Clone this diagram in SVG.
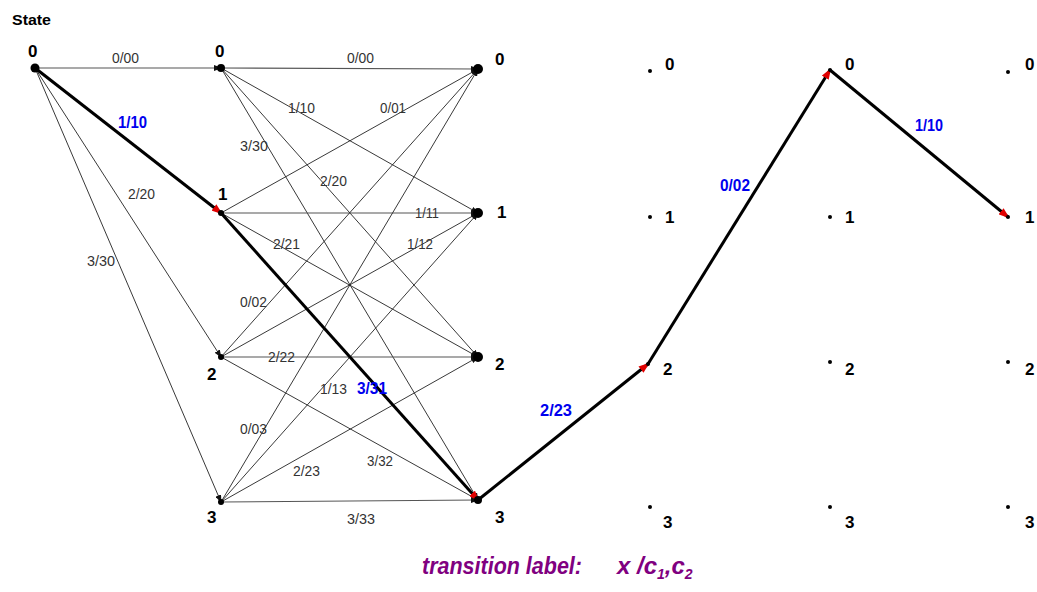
<svg xmlns="http://www.w3.org/2000/svg" width="1037" height="592" viewBox="0 0 1037 592">
<defs>
<marker id="ah" markerUnits="userSpaceOnUse" markerWidth="8" markerHeight="6" refX="7" refY="3" orient="auto"><path d="M0,0 L8,3 L0,6 z" fill="#111"/></marker>
<marker id="rah" markerUnits="userSpaceOnUse" markerWidth="11" markerHeight="8" refX="9" refY="4" orient="auto"><path d="M0,0 L11,4 L0,8 z" fill="#e00000"/></marker>
</defs>
<style>
.t{stroke:#222;stroke-width:0.9;fill:none;marker-end:url(#ah)}
.h{stroke:#555;stroke-width:1.2;fill:none;marker-end:url(#ah)}
.k{stroke:#000;stroke-width:3;fill:none;marker-end:url(#rah)}
.lb{font-family:"Liberation Sans",Arial,sans-serif;font-size:15px;fill:#333}
.bl{font-family:"Liberation Sans",Arial,sans-serif;font-size:17px;font-weight:bold;fill:#0000ee}
.st{font-family:"Liberation Sans",Arial,sans-serif;font-size:17px;font-weight:bold;fill:#000}
.dot{fill:#000}
</style>
<rect width="1037" height="592" fill="#fff"/>
<text x="12" y="25" font-family="Liberation Sans, Arial, sans-serif" font-size="15" font-weight="bold" textLength="39" lengthAdjust="spacingAndGlyphs">State</text>
<g id="connectors">
<line class="h" x1="35" y1="68" x2="221" y2="68"/>
<line class="t" x1="35" y1="68" x2="221" y2="357"/>
<line class="t" x1="35" y1="68" x2="221" y2="502"/>
<line class="h" x1="221" y1="68" x2="478" y2="69"/>
<line class="t" x1="221" y1="68" x2="478" y2="213"/>
<line class="t" x1="221" y1="68" x2="478" y2="357"/>
<line class="t" x1="221" y1="68" x2="478" y2="500"/>
<line class="t" x1="221" y1="213" x2="478" y2="69"/>
<line class="h" x1="221" y1="213" x2="478" y2="213"/>
<line class="t" x1="221" y1="213" x2="478" y2="357"/>
<line class="t" x1="221" y1="357" x2="478" y2="69"/>
<line class="t" x1="221" y1="357" x2="478" y2="213"/>
<line class="h" x1="221" y1="357" x2="478" y2="357"/>
<line class="t" x1="221" y1="357" x2="478" y2="500"/>
<line class="t" x1="221" y1="502" x2="478" y2="69"/>
<line class="t" x1="221" y1="502" x2="478" y2="213"/>
<line class="t" x1="221" y1="502" x2="478" y2="357"/>
<line class="h" x1="221" y1="502" x2="478" y2="500"/>
<line class="k" x1="35" y1="68" x2="221" y2="213"/>
<line class="k" x1="221" y1="213" x2="478" y2="500"/>
<line class="k" x1="478" y1="500" x2="648" y2="364"/>
<line class="k" x1="648" y1="364" x2="830" y2="70"/>
<line class="k" x1="830" y1="70" x2="1008" y2="217"/>
</g>
<g id="edge-labels">
<text class="lb" x="112" y="63" textLength="27" lengthAdjust="spacingAndGlyphs">0/00</text>
<text class="lb" x="128" y="199" textLength="27" lengthAdjust="spacingAndGlyphs">2/20</text>
<text class="lb" x="87" y="266" textLength="28" lengthAdjust="spacingAndGlyphs">3/30</text>
<text class="lb" x="347" y="63" textLength="27" lengthAdjust="spacingAndGlyphs">0/00</text>
<text class="lb" x="288" y="113" textLength="27" lengthAdjust="spacingAndGlyphs">1/10</text>
<text class="lb" x="380" y="113" textLength="26" lengthAdjust="spacingAndGlyphs">0/01</text>
<text class="lb" x="240" y="151" textLength="28" lengthAdjust="spacingAndGlyphs">3/30</text>
<text class="lb" x="320" y="186" textLength="27" lengthAdjust="spacingAndGlyphs">2/20</text>
<text class="lb" x="415" y="218" textLength="24" lengthAdjust="spacingAndGlyphs">1/11</text>
<text class="lb" x="273" y="249" textLength="27" lengthAdjust="spacingAndGlyphs">2/21</text>
<text class="lb" x="407" y="249" textLength="26" lengthAdjust="spacingAndGlyphs">1/12</text>
<text class="lb" x="240" y="307" textLength="27" lengthAdjust="spacingAndGlyphs">0/02</text>
<text class="lb" x="268" y="362" textLength="27" lengthAdjust="spacingAndGlyphs">2/22</text>
<text class="lb" x="320" y="394" textLength="27" lengthAdjust="spacingAndGlyphs">1/13</text>
<text class="lb" x="240" y="434" textLength="27" lengthAdjust="spacingAndGlyphs">0/03</text>
<text class="lb" x="293" y="476" textLength="27" lengthAdjust="spacingAndGlyphs">2/23</text>
<text class="lb" x="367" y="466" textLength="26" lengthAdjust="spacingAndGlyphs">3/32</text>
<text class="lb" x="347" y="524" textLength="28" lengthAdjust="spacingAndGlyphs">3/33</text>
<text class="bl" x="118" y="128" textLength="29" lengthAdjust="spacingAndGlyphs">1/10</text>
<text class="bl" x="357" y="394" textLength="30" lengthAdjust="spacingAndGlyphs">3/31</text>
<text class="bl" x="540" y="416" textLength="32" lengthAdjust="spacingAndGlyphs">2/23</text>
<text class="bl" x="720" y="191" textLength="30" lengthAdjust="spacingAndGlyphs">0/02</text>
<text class="bl" x="915" y="131" textLength="28" lengthAdjust="spacingAndGlyphs">1/10</text>
</g>
<g id="n-t0-s0"><circle class="dot" cx="35" cy="68" r="4.5"/><text class="st" x="28" y="57">0</text></g>
<g id="n-t1-s0"><circle class="dot" cx="221" cy="68" r="4"/><text class="st" x="215" y="57">0</text></g>
<g id="n-t1-s1"><circle class="dot" cx="221" cy="213" r="3"/><text class="st" x="218" y="200">1</text></g>
<g id="n-t1-s2"><circle class="dot" cx="221" cy="357" r="3"/><text class="st" x="207" y="380">2</text></g>
<g id="n-t1-s3"><circle class="dot" cx="221" cy="502" r="3"/><text class="st" x="207" y="523">3</text></g>
<g id="n-t2-s0"><circle class="dot" cx="478" cy="69" r="5"/><text class="st" x="495" y="65">0</text></g>
<g id="n-t2-s1"><circle class="dot" cx="478" cy="213" r="5"/><text class="st" x="497" y="218">1</text></g>
<g id="n-t2-s2"><circle class="dot" cx="478" cy="357" r="5"/><text class="st" x="495" y="370">2</text></g>
<g id="n-t2-s3"><circle class="dot" cx="478" cy="500" r="4"/><text class="st" x="495" y="523">3</text></g>
<g id="n-t3-s0"><circle class="dot" cx="650" cy="71" r="2"/><text class="st" x="665" y="70">0</text></g>
<g id="n-t3-s1"><circle class="dot" cx="650" cy="217" r="2"/><text class="st" x="665" y="223">1</text></g>
<g id="n-t3-s2"><circle class="dot" cx="648" cy="364" r="2"/><text class="st" x="663" y="375">2</text></g>
<g id="n-t3-s3"><circle class="dot" cx="650" cy="507" r="2"/><text class="st" x="663" y="528">3</text></g>
<g id="n-t4-s0"><circle class="dot" cx="830" cy="70" r="2"/><text class="st" x="845" y="70">0</text></g>
<g id="n-t4-s1"><circle class="dot" cx="830" cy="217" r="2"/><text class="st" x="845" y="223">1</text></g>
<g id="n-t4-s2"><circle class="dot" cx="830" cy="362" r="2"/><text class="st" x="845" y="375">2</text></g>
<g id="n-t4-s3"><circle class="dot" cx="830" cy="507" r="2"/><text class="st" x="845" y="528">3</text></g>
<g id="n-t5-s0"><circle class="dot" cx="1008" cy="72" r="2"/><text class="st" x="1025" y="70">0</text></g>
<g id="n-t5-s1"><circle class="dot" cx="1008" cy="217" r="2"/><text class="st" x="1025" y="223">1</text></g>
<g id="n-t5-s2"><circle class="dot" cx="1008" cy="362" r="2"/><text class="st" x="1025" y="375">2</text></g>
<g id="n-t5-s3"><circle class="dot" cx="1008" cy="507" r="2"/><text class="st" x="1025" y="528">3</text></g>
<g id="caption" font-family="Liberation Sans, Arial, sans-serif" font-weight="bold" font-style="italic" fill="#800080" font-size="24">
<text x="422" y="574" textLength="160" lengthAdjust="spacingAndGlyphs">transition label:</text>
<text x="617" y="574">x /c<tspan font-size="14" dy="5">1</tspan><tspan dy="-5">,c</tspan><tspan font-size="14" dy="5">2</tspan></text>
</g>
</svg>
